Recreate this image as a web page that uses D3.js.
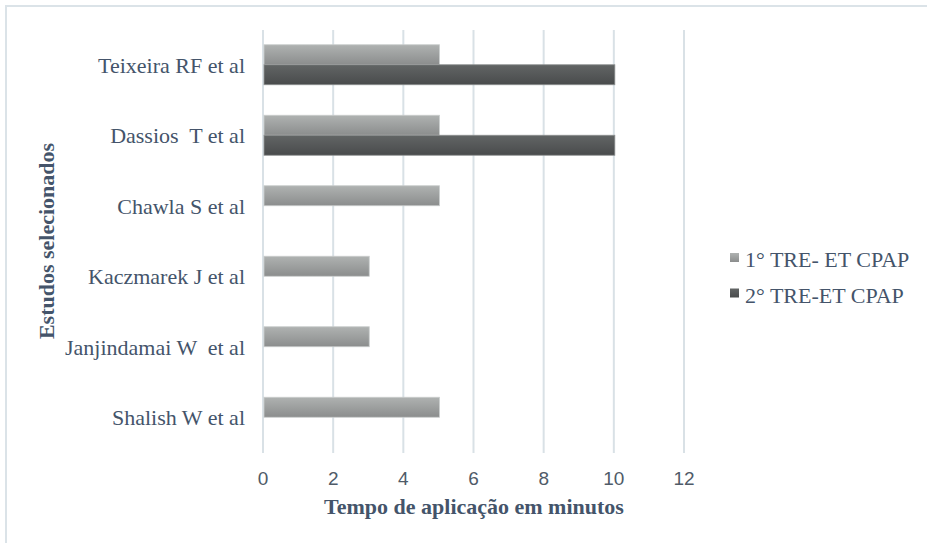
<!DOCTYPE html>
<html>
<head>
<meta charset="utf-8">
<script src="https://cdn.jsdelivr.net/npm/d3@7"></script>
<style>
  body { margin: 0; background: #fff; }
  text { white-space: pre; }
</style>
</head>
<body>
<div id="vis"></div>
<script>
// data, top to bottom as drawn
const estudos = ["Teixeira RF et al", "Dassios  T et al", "Chawla S et al",
    "Kaczmarek J et al", "Janjindamai W  et al", "Shalish W et al"];
const series = ["1° TRE- ET CPAP", "2° TRE-ET CPAP"];
const primeiro = [5, 5, 5, 3, 3, 5];
const segundo = [10, 10, 0, 0, 0, 0];
const xTicks = [0, 2, 4, 6, 8, 10, 12];

const svg = d3.select("#vis")
    .append("svg")
    .attr("width", 927)
    .attr("height", 543);

const txt = "#44546a";

// outer frame
svg.append("rect")
    .attr("x", 6)
    .attr("y", 6)
    .attr("width", 960)
    .attr("height", 560)
    .attr("fill", "#fff")
    .attr("stroke", "#dbe3e8")
    .attr("stroke-width", 2);

const defs = svg.append("defs");
function grad(id, c1, c2) {
    const g = defs.append("linearGradient")
        .attr("id", id)
        .attr("x1", 0).attr("y1", 0).attr("x2", 0).attr("y2", 1);
    g.append("stop").attr("offset", "0%").attr("stop-color", c1);
    g.append("stop").attr("offset", "100%").attr("stop-color", c2);
}
grad("g1", "#afb2b1", "#8b8d8d");
grad("g2", "#626565", "#494b4c");

const x = d3.scaleLinear()
    .domain([0, 12])
    .range([263, 684]);

const y = d3.scaleBand()
    .domain(estudos)
    .range([30, 453]);

const inner = d3.scaleBand()
    .domain(series)
    .range([0, 40]);

// gridlines
svg.append("g")
    .selectAll("line")
    .data(xTicks)
    .enter()
    .append("line")
    .attr("x1", d => x(d))
    .attr("x2", d => x(d))
    .attr("y1", 30)
    .attr("y2", 453)
    .attr("stroke", "#d9e1e6")
    .attr("stroke-width", 2);

const bars = svg.append("g");
const rows = estudos.map((e, i) => ({ e: e, v: [primeiro[i], segundo[i]] }));

rows.forEach(function (r) {
    const off = y(r.e) + (y.bandwidth() - 40) / 2 - 0.5;
    series.forEach(function (s, j) {
        if (r.v[j] <= 0) return;
        bars.append("rect")
            .attr("x", x(0) + 1)
            .attr("y", off + inner(s))
            .attr("width", x(r.v[j]) - x(0))
            .attr("height", inner.bandwidth())
            .attr("fill", j === 0 ? "url(#g1)" : "url(#g2)")
            .attr("stroke", j === 0 ? "#c9cccc" : "#8e9191")
            .attr("stroke-width", 0.8);
    });
});

// category labels
svg.append("g")
    .selectAll("text")
    .data(estudos)
    .enter()
    .append("text")
    .attr("x", 245)
    .attr("y", d => y(d) + y.bandwidth() / 2)
    .attr("dy", "0.35em")
    .attr("text-anchor", "end")
    .attr("font-family", "Liberation Serif, serif")
    .attr("font-size", 22)
    .attr("fill", txt)
    .text(d => d);

// x tick labels
svg.append("g")
    .selectAll("text")
    .data(xTicks)
    .enter()
    .append("text")
    .attr("x", d => x(d))
    .attr("y", 478)
    .attr("dy", "0.35em")
    .attr("text-anchor", "middle")
    .attr("font-family", "Liberation Sans, Arial, sans-serif")
    .attr("font-size", 19)
    .attr("fill", "#4f5b68")
    .text(d => d);

// axis titles
svg.append("text")
    .attr("x", 474)
    .attr("y", 506)
    .attr("dy", "0.35em")
    .attr("text-anchor", "middle")
    .attr("font-family", "Liberation Serif, serif")
    .attr("font-weight", "bold")
    .attr("font-size", 22)
    .attr("fill", txt)
    .text("Tempo de aplicação em minutos");

svg.append("text")
    .attr("transform", "translate(46,241) rotate(-90)")
    .attr("dy", "0.35em")
    .attr("text-anchor", "middle")
    .attr("font-family", "Liberation Serif, serif")
    .attr("font-weight", "bold")
    .attr("font-size", 22)
    .attr("fill", txt)
    .text("Estudos selecionados");

// legend
const leg = svg.append("g")
    .selectAll("g")
    .data(series)
    .enter()
    .append("g")
    .attr("transform", (d, i) => "translate(730," + (259.5 + i * 35.5) + ")");

leg.append("rect")
    .attr("x", 0)
    .attr("y", -6.5)
    .attr("width", 9)
    .attr("height", 9)
    .attr("fill", (d, i) => i === 0 ? "url(#g1)" : "url(#g2)");

leg.append("text")
    .attr("x", 15)
    .attr("y", 0)
    .attr("dy", "0.35em")
    .attr("font-family", "Liberation Serif, serif")
    .attr("font-size", 22)
    .attr("fill", txt)
    .text(d => d);
</script>
</body>
</html>
